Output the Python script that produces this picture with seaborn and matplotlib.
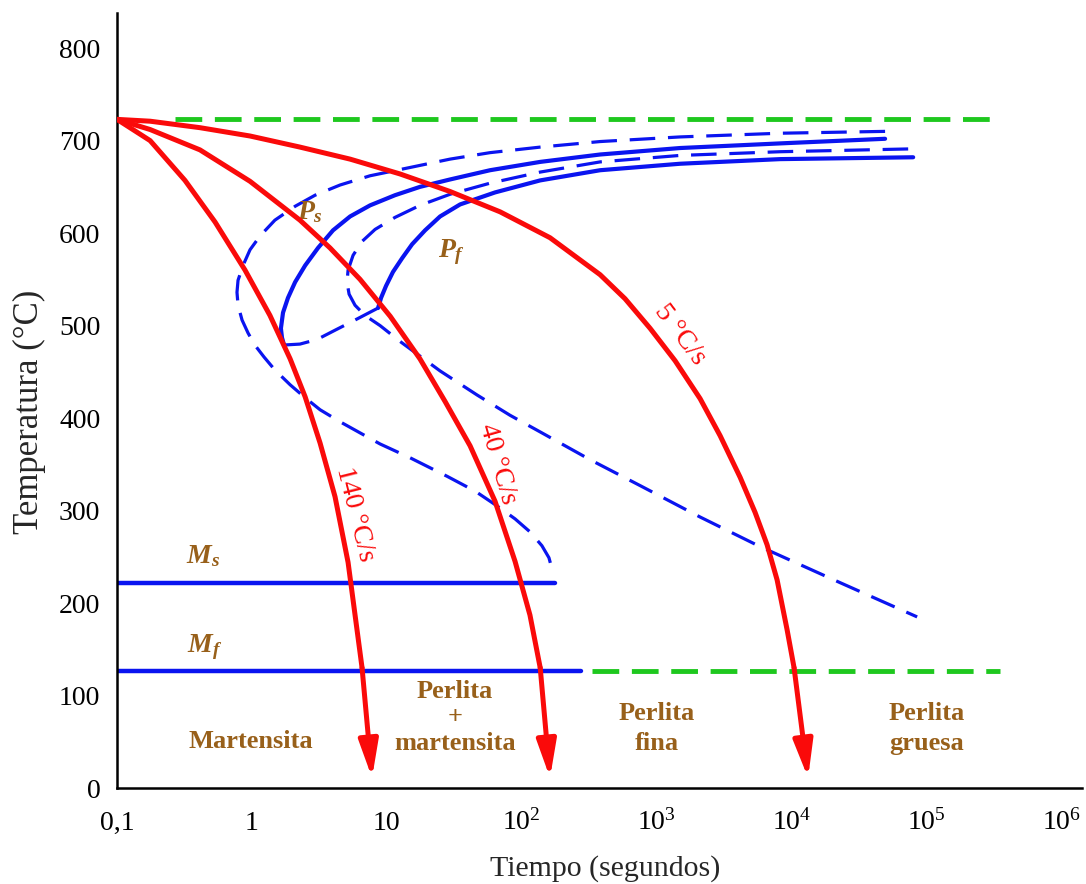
import numpy as np
import pandas as pd
import matplotlib
matplotlib.use("Agg")
import matplotlib.pyplot as plt
from matplotlib.ticker import NullLocator
import seaborn as sns

# ---------------- data (time in s, temperature in °C) ----------------
# cooling curves (last point = arrow tip)
cool_140_t = [0.1, 0.176, 0.319, 0.533, 0.889, 1.36, 1.92, 2.48, 3.20, 4.13, 5.16, 6.55, 7.77]
cool_140_T = [723, 700, 657, 612, 560, 511, 464, 423, 373, 315, 244, 130, 11]

cool_40_t = [0.1, 0.176, 0.412, 0.968, 2.27, 3.79, 6.33, 10.6, 17.6, 27.0, 41.4, 63.4, 89.2, 115, 137, 162]
cool_40_T = [723, 712, 690, 656, 614, 584, 550, 510, 464, 418, 370, 310, 245, 187, 130, 11]

cool_5_t = [0.1, 0.176, 0.412, 0.968, 2.27, 5.34, 12.5, 29.4, 69.1, 162, 381, 583, 894, 1369, 2098,
            2951, 4152, 5362, 6581, 7808, 9262, 10430, 13250]
cool_5_T = [723, 721, 714, 705, 693, 680, 664, 645, 623, 595, 555, 529, 497, 462, 421,
            381, 336, 298, 263, 225, 171, 130, 11]

# isothermal transformation curves (dashed)
ttt_start_t = [4.93e4, 8220, 1491, 381, 137, 58.2, 29.4, 14.9, 7.51, 4.50, 2.94, 2.09, 1.48, 1.15,
               0.968, 0.859, 0.789, 0.775, 0.789, 0.845, 0.936, 1.05, 1.23, 1.48, 1.92, 2.48, 3.20,
               4.50, 6.33, 8.91, 14.9, 28.0, 45.1, 65.6, 89.2, 115, 141, 159, 171]
ttt_start_T = [710, 708, 704, 699, 693, 687, 680, 671, 662, 652, 641, 629, 614, 597,
               582, 565, 549, 536, 522, 506, 492, 479, 466, 452, 436, 422, 409,
               396, 384, 372, 357, 337, 321, 305, 291, 277, 262, 249, 232]

ttt_end_t = [7.31e4, 8220, 1491, 381, 137, 58.2, 29.4, 17.6, 11.5, 8.18, 6.55, 5.62, 5.16, 5.07,
             5.25, 5.81, 6.89, 8.91, 12.5, 17.6, 24.8, 46.6, 81.9, 137, 321, 753, 2098, 5842,
             2.29e4, 8.52e4]
ttt_end_T = [691, 688, 684, 677, 666, 654, 642, 630, 617, 604, 591, 576, 560, 547,
             534, 522, 511, 500, 483, 467, 451, 425, 403, 385, 355, 327, 293, 261,
             222, 185]

# continuous cooling transformation curves (solid)
ps_t = [4.93e4, 8220, 1491, 381, 137, 58.2, 29.4, 17.6, 11.5, 7.51, 5.34, 3.99, 3.09, 2.48, 2.09,
        1.85, 1.70, 1.64, 1.67, 1.73]
ps_T = [702, 697, 692, 685, 677, 668, 658, 650, 641, 630, 618, 603, 584, 565, 547,
        530, 514, 497, 487, 479]

pf_t = [7.96e4, 8220, 1491, 381, 137, 63.4, 34.9, 24.8, 19.2, 15.4, 13.0, 11.1, 9.87, 9.06, 8.61]
pf_T = [682, 680, 675, 668, 657, 644, 631, 618, 603, 588, 573, 558, 543, 530, 519]

stop_t = [1.73, 2.27, 3.04, 4.13, 5.81, 8.61]
stop_T = [479, 480, 485, 495, 506, 519]

# horizontal lines
a1_t, a1_T = [0.27, 3.5e5], [723, 723]
ms_t, ms_T = [0.1, 177], [222, 222]
mf_t, mf_T = [0.1, 276], [126, 126]
mf_ext_t, mf_ext_T = [330, 3.5e5], [126, 126]

x_ticks = [0.1, 1, 10, 1e2, 1e3, 1e4, 1e5, 1e6]
x_tick_labels = ["0,1", "1", "10", r"$\mathrm{10}^{\mathrm{2}}$", r"$\mathrm{10}^{\mathrm{3}}$",
                 r"$\mathrm{10}^{\mathrm{4}}$", r"$\mathrm{10}^{\mathrm{5}}$", r"$\mathrm{10}^{\mathrm{6}}$"]
y_ticks = [0, 100, 200, 300, 400, 500, 600, 700, 800]

# ---------------- style ----------------
sns.set_style("white")
plt.rcParams["font.family"] = ["Liberation Serif", "DejaVu Serif"]
plt.rcParams["mathtext.fontset"] = "custom"
plt.rcParams["mathtext.rm"] = "Liberation Serif"
plt.rcParams["mathtext.it"] = "Liberation Serif:italic:bold"
plt.rcParams["mathtext.bf"] = "Liberation Serif:bold"

RED = "#fa0a0a"
BLUE = "#0a14f0"
GREEN = "#1ec81e"
BROWN = "#98601a"

fig = plt.figure(figsize=(10.86, 8.84), dpi=100)
ax = fig.add_axes([117 / 1086, 96 / 884, 965 / 1086, 775 / 884])
ax.set_xscale("log")


def draw(t, T, color, lw, ls="-", z=2):
    df = pd.DataFrame({"t": t, "T": T})
    sns.lineplot(data=df, x="t", y="T", sort=False, estimator=None, color=color,
                 linewidth=lw, linestyle=ls, ax=ax, zorder=z)


dash_g = (0, (5.5, 2.6))
dash_b = (0, (8, 4))

draw(a1_t, a1_T, GREEN, 3.5, dash_g, 1)
draw(mf_ext_t, mf_ext_T, GREEN, 3.5, dash_g, 1)
draw(ms_t, ms_T, BLUE, 3.2, "-", 2)
draw(mf_t, mf_T, BLUE, 3.2, "-", 2)
draw(ttt_start_t, ttt_start_T, BLUE, 2.3, dash_b, 2)
draw(ttt_end_t, ttt_end_T, BLUE, 2.3, dash_b, 2)
draw(stop_t, stop_T, BLUE, 2.3, dash_b, 2)
draw(ps_t, ps_T, BLUE, 3.0, "-", 2)
draw(pf_t, pf_T, BLUE, 3.0, "-", 2)

for ct, cT in [(cool_140_t, cool_140_T), (cool_40_t, cool_40_T), (cool_5_t, cool_5_T)]:
    draw(ct[:-1], cT[:-1], RED, 3.6, "-", 4)
    ax.annotate("", xy=(ct[-1], cT[-1]), xytext=(ct[-2], cT[-2]),
                arrowprops=dict(arrowstyle="-|>,head_length=1.6,head_width=0.42",
                                color=RED, lw=3.6, shrinkA=0, shrinkB=0,
                                mutation_scale=14), zorder=4)

# ---------------- axes ----------------
ax.set_xlim(0.1, 1.42e6)
ax.set_ylim(0, 838)
ax.set_xticks(x_ticks, x_tick_labels)
ax.set_yticks(y_ticks, [str(v) for v in y_ticks])
ax.xaxis.set_minor_locator(NullLocator())
for s in ["top", "right"]:
    ax.spines[s].set_visible(False)
for s in ["left", "bottom"]:
    ax.spines[s].set_linewidth(1.8)
    ax.spines[s].set_color("black")
ax.tick_params(axis="x", direction="in", length=13, width=1.8, labelsize=20, pad=30, colors="black")
ax.tick_params(axis="y", direction="in", length=17, width=1.8, labelsize=20, pad=12, colors="black")
for lbl in ax.get_xticklabels():
    lbl.set_verticalalignment("baseline")

ax.set_xlabel("Tiempo (segundos)", fontsize=21.5)
ax.set_ylabel("Temperatura (°C)", fontsize=25)
ax.xaxis.set_label_coords(0.506, -0.086)
ax.yaxis.set_label_coords(-0.074, 0.485)
ax.grid(False)

# ---------------- annotations ----------------
bold = dict(color=BROWN, fontsize=19, fontweight="bold", ha="center", va="center")
ax.text(0.985, 50, "Martensita", **bold)
ax.text(32, 76, "Perlita\n+\nmartensita", linespacing=1.17, **bold)
ax.text(1000, 64, "Perlita\nfina", linespacing=1.38, **bold)
ax.text(1e5, 64, "Perlita\ngruesa", linespacing=1.38, **bold)

ital = dict(color=BROWN, fontsize=20, ha="center", va="center")
ax.text(2.70, 623, r"$P_s$", **ital)
ax.text(30.4, 579, r"$P_f$", **ital)
ax.text(0.434, 251, r"$M_s$", **ital)
ax.text(0.448, 152, r"$M_f$", **ital)

rl = dict(color=RED, fontsize=20, ha="center", va="center", rotation_mode="anchor")
ax.text(5.81, 296, "140 °C/s", rotation=-76, **rl)
ax.text(66.7, 350, "40 °C/s", rotation=-74, **rl)
ax.text(1490, 490, "5 °C/s", rotation=-53, **rl)

fig.savefig("out.png", dpi=100)
